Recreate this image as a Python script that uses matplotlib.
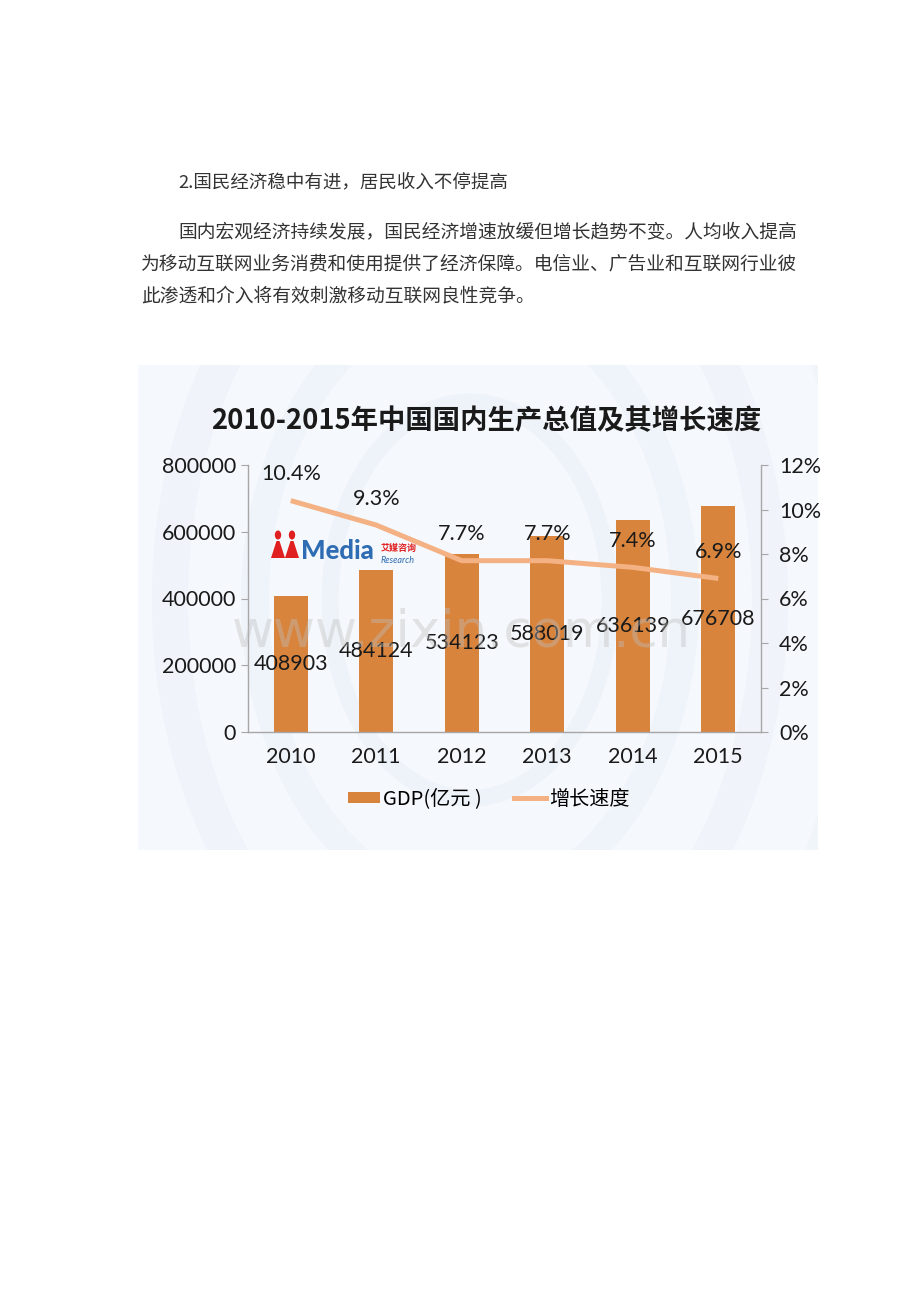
import matplotlib
matplotlib.use("Agg")
import matplotlib.pyplot as plt
from matplotlib.patches import Rectangle, Circle, Polygon, Patch
from matplotlib.lines import Line2D
from matplotlib.ticker import FuncFormatter

# data
years = ["2010", "2011", "2012", "2013", "2014", "2015"]
gdp = [408903, 484124, 534123, 588019, 636139, 676708]
growth = [10.4, 9.3, 7.7, 7.7, 7.4, 6.9]
gdp_ticks = [0, 200000, 400000, 600000, 800000]
pct_ticks = [0, 2, 4, 6, 8, 10, 12]

title = "2010-2015年中国国内生产总值及其增长速度"
heading = "2.国民经济稳中有进，居民收入不停提高"
para_lines = [
    "国内宏观经济持续发展，国民经济增速放缓但增长趋势不变。人均收入提高",
    "为移动互联网业务消费和使用提供了经济保障。电信业、广告业和互联网行业彼",
    "此渗透和介入将有效刺激移动互联网良性竞争。",
]

BAR = "#D8843D"
LINE = "#F4B183"
AXIS = "#A6A6A6"
W, H = 920, 1302

plt.rcParams["font.family"] = ["Lato", "Noto Sans CJK SC", "DejaVu Sans"]
CJK = ["Noto Sans CJK SC", "DejaVu Sans"]


def fx(x):
    return x / W


def fy(y):
    return 1 - y / H


fig = plt.figure(figsize=(W / 100, H / 100), dpi=100)
fig.patch.set_facecolor("white")

# document text above the chart
fig.text(fx(178), fy(182), heading, fontsize=13.3, family=CJK, color="#333333",
         ha="left", va="center")
fig.text(fx(178), fy(232), para_lines[0], fontsize=13.5, family=CJK, color="#333333",
         ha="left", va="center")
fig.text(fx(141), fy(264), para_lines[1], fontsize=13.5, family=CJK, color="#333333",
         ha="left", va="center")
fig.text(fx(141), fy(297), para_lines[2], fontsize=13.5, family=CJK, color="#333333",
         ha="left", va="center")

# chart picture background with faint arcs
bg = Rectangle((fx(138), fy(850)), fx(818) - fx(138), fy(365) - fy(850),
               transform=fig.transFigure, facecolor="#F5F8FC", edgecolor="none", zorder=-3)
fig.add_artist(bg)
for r, lw, c in [(140, 12, "#EEF3F9"), (215, 20, "#EFF4FA"), (300, 26, "#F0F4FA"), (390, 16, "#F0F5FA")]:
    ring = Circle((fx(470), fy(600)), r / W, transform=fig.transFigure, fill=False,
                  edgecolor=c, linewidth=lw, zorder=-2)
    fig.add_artist(ring)
    ring.set_clip_path(bg)

fig.text(fx(486), fy(421), title, fontsize=19.7, fontweight="bold", family=CJK,
         color="#1A1A1A", ha="center", va="center")

ax = fig.add_axes([fx(248), fy(732), fx(761) - fx(248), fy(465) - fy(732)])
ax.patch.set_alpha(0)
x = list(range(len(years)))
ax.bar(x, gdp, width=0.4, color=BAR, zorder=2)
ax.set_xlim(-0.5, len(years) - 0.5)
ax.set_ylim(0, 800000)
ax.set_yticks(gdp_ticks)
ax.set_xticks(x)
ax.set_xticklabels(years)
for i, v in enumerate(gdp):
    ax.text(i, v / 2, str(v), ha="center", va="center", fontsize=15.5, color="#1A1A1A", zorder=4)

ax2 = ax.twinx()
ax2.plot(x, growth, color=LINE, linewidth=3.6, solid_capstyle="butt", zorder=3)
ax2.set_ylim(0, 12)
ax2.set_yticks(pct_ticks)
ax2.yaxis.set_major_formatter(FuncFormatter(lambda v, p: f"{v:.0f}%"))
for i, g in enumerate(growth):
    ax2.annotate(f"{g}%", (i, g), xytext=(0, 19), textcoords="offset points",
                 ha="center", va="center", fontsize=15.5, color="#1A1A1A")

for a in (ax, ax2):
    a.spines["top"].set_visible(False)
    for s in ("left", "right", "bottom"):
        a.spines[s].set_color(AXIS)
        a.spines[s].set_linewidth(1.0)
ax.spines["right"].set_visible(False)
ax2.spines["left"].set_visible(False)
ax2.spines["bottom"].set_visible(False)
ax.tick_params(axis="y", length=5, color=AXIS, pad=3.5, labelsize=15.5, labelcolor="#1A1A1A")
ax.tick_params(axis="x", length=0, pad=11, labelsize=15.5, labelcolor="#1A1A1A")
ax2.tick_params(axis="y", length=5, color=AXIS, pad=8, labelsize=15.5, labelcolor="#1A1A1A")

# watermark (it sits over the bar labels in the reference too)
fig.text(fx(461), fy(633), "www.zixin.com.cn", fontsize=37, family=["DejaVu Sans"],
         color="#BFBFBF", alpha=0.4, ha="center", va="center", zorder=10)

# iiMedia logo
for cx in (278, 292):
    fig.add_artist(Circle((fx(cx), fy(535)), 3.2 / W, transform=fig.transFigure,
                          facecolor="#E02020", edgecolor="none", zorder=5))
    fig.add_artist(Polygon([(fx(cx - 1.5), fy(541)), (fx(cx + 1.5), fy(541)),
                            (fx(cx + 7), fy(558)), (fx(cx - 7), fy(558))],
                           closed=True, transform=fig.transFigure,
                           facecolor="#E02020", edgecolor="none", zorder=5))
fig.text(fx(301), fy(551), "Media", fontsize=18.5, fontweight="black", color="#2E6DB4",
         ha="left", va="center", zorder=5)
fig.text(fx(381), fy(548), "艾媒咨询", fontsize=6.5, fontweight="bold", family=CJK,
         color="#E02020", ha="left", va="center", zorder=5)
fig.text(fx(381), fy(560), "Research", fontsize=6.5, style="italic", color="#2E6DB4",
         ha="left", va="center", zorder=5)

handles = [Patch(facecolor=BAR, edgecolor="none"),
           Line2D([0], [0], color=LINE, linewidth=3.6)]
fig.legend(handles, ["GDP(亿元 )", "增长速度"], loc="center",
           bbox_to_anchor=(fx(489), fy(799)), ncol=2, frameon=False,
           prop={"family": CJK, "size": 14.5}, handlelength=1.6, handleheight=0.5,
           handletextpad=0.15, columnspacing=1.6)

fig.savefig("out.png", dpi=100)
